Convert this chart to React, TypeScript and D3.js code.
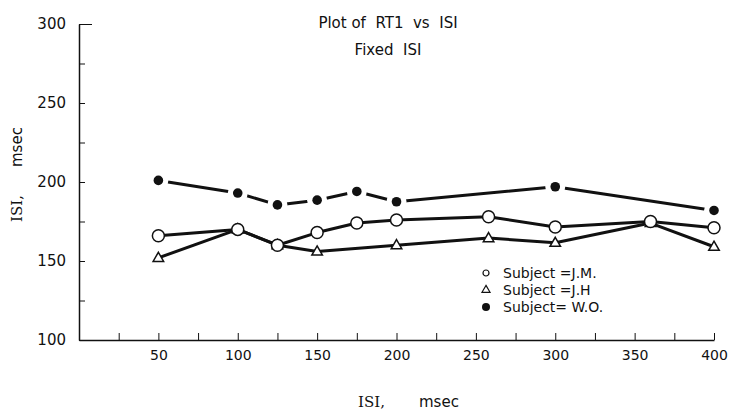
import { useEffect, useRef } from "react";
import * as d3 from "d3";

// values (RT1 in msec against ISI in msec)
const isiJM = [50, 100, 125, 150, 175, 200, 258, 300, 360, 400];
const rtJM = [166, 170, 160, 168, 174, 176, 178, 171.5, 175, 171];

const isiJH = [50, 100, 125, 150, 200, 258, 300, 360, 400];
const rtJH = [152, 170, 160, 156, 160, 164.5, 161.5, 174, 159];

const isiWO = [50, 100, 125, 150, 175, 200, 300, 400];
const rtWO = [201, 193, 185.5, 188.5, 194, 187.5, 197, 182];

const legendLabels = ["Subject =J.M.", "Subject =J.H", "Subject= W.O."];
const titleLines = ["Plot of  RT1  vs  ISI", "Fixed  ISI"];

const xTicks = d3.range(25, 401, 25);
const yTicks = d3.range(100, 301, 25);

const FONT = "'DejaVu Sans', sans-serif";
const SERIF = "'DejaVu Serif', serif";

const App = () => {
  const svgRef = useRef(null);

  useEffect(() => {
    const svgEl = d3.select(svgRef.current);
    svgEl.selectAll("*").remove();

    const margin = { top: 24, right: 17, bottom: 70, left: 79 };
    const width = 731 - margin.left - margin.right;
    const height = 410 - margin.top - margin.bottom;

    const x = d3.scaleLinear().domain([0, 400]).range([0, width]);
    const y = d3.scaleLinear().domain([100, 300]).range([height, 0]);

    const svg = svgEl
      .append("g")
      .attr("transform", `translate(${margin.left}, ${margin.top})`);

    // axes, ticks pointing into the plot
    const yAxis = d3
      .axisLeft(y)
      .tickValues(yTicks)
      .tickSizeInner(-6)
      .tickSizeOuter(0)
      .tickPadding(13)
      .tickFormat((d) => (d % 50 === 0 ? String(d) : ""));
    const xAxis = d3
      .axisBottom(x)
      .tickValues(xTicks)
      .tickSizeInner(-7)
      .tickSizeOuter(0)
      .tickPadding(10)
      .tickFormat((d) => (d % 50 === 0 ? String(d) : ""));

    const gy = svg.append("g").call(yAxis);
    const gx = svg.append("g").attr("transform", `translate(0, ${height})`).call(xAxis);

    [gx, gy].forEach((g) => {
      g.select(".domain").attr("stroke", "#111").attr("stroke-width", 1.5);
      g.selectAll(".tick line").attr("stroke", "#111").attr("stroke-width", 1);
      g.selectAll(".tick text")
        .attr("fill", "#111")
        .style("font-family", FONT);
    });
    gy.selectAll(".tick text").style("font-size", "15px");
    gx.selectAll(".tick text").style("font-size", "14px");
    // longer tick at the top of the y axis
    gy.selectAll(".tick line").filter((d) => d === 300).attr("x2", 13);

    // lines
    const line = d3
      .line()
      .x((d) => x(d[0]))
      .y((d) => y(d[1]));

    const series = [
      { isi: isiJM, rt: rtJM },
      { isi: isiJH, rt: rtJH },
      { isi: isiWO, rt: rtWO },
    ];
    series.forEach((s) => {
      svg
        .append("path")
        .datum(d3.zip(s.isi, s.rt))
        .attr("d", line)
        .attr("fill", "none")
        .attr("stroke", "#111")
        .attr("stroke-width", 3)
        .attr("stroke-linejoin", "round");
    });

    // J.H. triangles
    const tri = d3.symbol().type(d3.symbolTriangle).size(48);
    svg
      .selectAll(".jh")
      .data(d3.zip(isiJH, rtJH))
      .join("path")
      .attr("class", "jh")
      .attr("d", tri)
      .attr("transform", (d) => `translate(${x(d[0])}, ${y(d[1]) + 0.5})`)
      .attr("fill", "white")
      .attr("stroke", "#111")
      .attr("stroke-width", 1.5);

    // J.M. open circles
    svg
      .selectAll(".jm")
      .data(d3.zip(isiJM, rtJM))
      .join("circle")
      .attr("class", "jm")
      .attr("cx", (d) => x(d[0]))
      .attr("cy", (d) => y(d[1]))
      .attr("r", 6)
      .attr("fill", "white")
      .attr("stroke", "#111")
      .attr("stroke-width", 1.5);

    // W.O. filled dots, with a white gap round each one
    const wo = svg.selectAll(".wo").data(d3.zip(isiWO, rtWO)).join("g").attr("class", "wo");
    wo.append("circle")
      .attr("cx", (d) => x(d[0]))
      .attr("cy", (d) => y(d[1]))
      .attr("r", 10)
      .attr("fill", "white");
    wo.append("circle")
      .attr("cx", (d) => x(d[0]))
      .attr("cy", (d) => y(d[1]))
      .attr("r", 4.8)
      .attr("fill", "#111");

    // title
    svgEl
      .selectAll(".title")
      .data(titleLines)
      .join("text")
      .attr("class", "title")
      .attr("x", 388)
      .attr("y", (d, i) => 28 + i * 27)
      .attr("text-anchor", "middle")
      .style("font-family", FONT)
      .style("font-size", "15px")
      .style("white-space", "pre")
      .attr("fill", "#111")
      .text((d) => d);

    // legend
    const legend = svgEl.append("g").attr("transform", "translate(486, 273)");
    legendLabels.forEach((label, i) => {
      const row = legend.append("g").attr("transform", `translate(0, ${i * 17})`);
      if (i === 0) {
        row.append("circle").attr("r", 3).attr("fill", "white").attr("stroke", "#111").attr("stroke-width", 1.2);
      } else if (i === 1) {
        row.append("path")
          .attr("d", d3.symbol().type(d3.symbolTriangle).size(28))
          .attr("fill", "white")
          .attr("stroke", "#111")
          .attr("stroke-width", 1.2);
      } else {
        row.append("circle").attr("r", 4).attr("fill", "#111");
      }
      row.append("text")
        .attr("x", 17)
        .attr("y", 5)
        .style("font-family", FONT)
        .style("font-size", "14px")
        .attr("fill", "#111")
        .text(label);
    });

    // x axis title
    svgEl.append("text")
      .attr("x", 358)
      .attr("y", 407)
      .style("font-family", SERIF)
      .style("font-size", "15px")
      .attr("fill", "#111")
      .text("ISI,");
    svgEl.append("text")
      .attr("x", 419)
      .attr("y", 407)
      .style("font-family", FONT)
      .style("font-size", "15px")
      .attr("fill", "#111")
      .text("msec");

    // y axis title, rotated
    const yt = svgEl.append("g").attr("transform", "translate(22, 0) rotate(-90)");
    yt.append("text")
      .attr("x", -222)
      .attr("y", 0)
      .style("font-family", SERIF)
      .style("font-size", "15px")
      .attr("fill", "#111")
      .text("ISI,");
    yt.append("text")
      .attr("x", -167)
      .attr("y", 0)
      .style("font-family", FONT)
      .style("font-size", "15px")
      .attr("fill", "#111")
      .text("msec");
  }, []);

  return (
    <svg
      ref={svgRef}
      width={731}
      height={410}
      style={{ position: "absolute", left: 0, top: 0, background: "white" }}
    ></svg>
  );
};

export default App;
